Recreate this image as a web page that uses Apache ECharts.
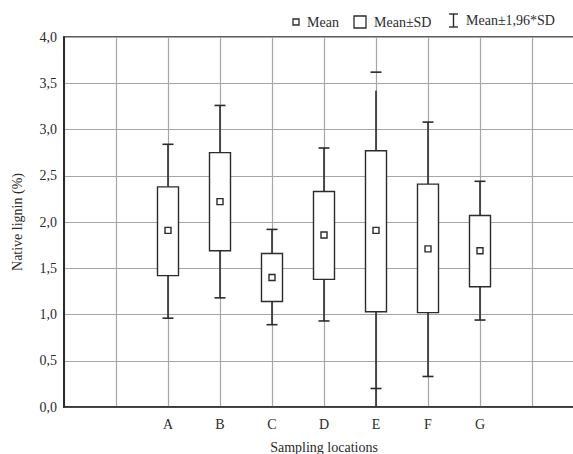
<!DOCTYPE html>
<html>
<head>
<meta charset="utf-8">
<script src="https://cdn.jsdelivr.net/npm/echarts@6/dist/echarts.min.js"></script>
<style>
  html, body { margin: 0; padding: 0; background: #fff; overflow: hidden; }
  #chart { width: 573px; height: 454px; }
</style>
</head>
<body>
<div id="chart"></div>
<script>
// sampling locations and read-off statistics (%)
const locations = ['A', 'B', 'C', 'D', 'E', 'F', 'G']
const means  = [1.91, 2.22, 1.40, 1.86, 1.91, 1.71, 1.69]
const sdLow  = [1.42, 1.69, 1.14, 1.38, 1.03, 1.02, 1.30]
const sdHigh = [2.38, 2.75, 1.66, 2.33, 2.77, 2.41, 2.07]
const ciLow  = [0.96, 1.18, 0.89, 0.93, 0.20, 0.33, 0.94]
const ciHigh = [2.84, 3.26, 1.92, 2.80, 3.62, 3.08, 2.44]
// where the drawn whisker stroke actually ends (E is drawn past its caps in the original)
const lineLow  = [0.96, 1.18, 0.89, 0.93, 0.00, 0.33, 0.94]
const lineHigh = [2.84, 3.26, 1.92, 2.80, 3.42, 3.08, 2.44]
const yTickLabels = ['0,0', '0,5', '1,0', '1,5', '2,0', '2,5', '3,0', '3,5', '4,0']

const FONT = 'Liberation Serif, DejaVu Serif, serif'
const INK = '#2b2b2b'

// two empty slots on each side, like the original plot
const axisData = ['', ''].concat(locations, ['', ''])

const boxData = locations.map((loc, i) => [
  axisData.indexOf(loc), ciLow[i], sdLow[i], means[i], sdHigh[i], ciHigh[i], lineLow[i], lineHigh[i]
])

function renderBox(params, api) {
  const x = api.value(0)
  const p = v => api.coord([x, v])
  const cx = p(0)[0]
  const boxW = 21
  const capW = 11
  const yCiLow = p(api.value(1))[1]
  const ySdLow = p(api.value(2))[1]
  const yMean = p(api.value(3))[1]
  const ySdHigh = p(api.value(4))[1]
  const yCiHigh = p(api.value(5))[1]
  const yLineLow = p(api.value(6))[1]
  const yLineHigh = p(api.value(7))[1]
  const lineStyle = { stroke: INK, lineWidth: 1.6 }
  return {
    type: 'group',
    children: [
      { type: 'line', shape: { x1: cx, y1: ySdHigh, x2: cx, y2: yLineHigh }, style: lineStyle },
      { type: 'line', shape: { x1: cx, y1: ySdLow, x2: cx, y2: yLineLow }, style: lineStyle },
      { type: 'line', shape: { x1: cx - capW / 2, y1: yCiHigh, x2: cx + capW / 2, y2: yCiHigh }, style: lineStyle },
      { type: 'line', shape: { x1: cx - capW / 2, y1: yCiLow, x2: cx + capW / 2, y2: yCiLow }, style: lineStyle },
      {
        type: 'rect',
        shape: { x: cx - boxW / 2, y: ySdHigh, width: boxW, height: ySdLow - ySdHigh },
        style: { fill: '#fff', stroke: INK, lineWidth: 1.4 }
      },
      {
        type: 'rect',
        shape: { x: cx - 3, y: yMean - 3, width: 6, height: 6 },
        style: { fill: '#fff', stroke: INK, lineWidth: 1.4 }
      }
    ]
  }
}

const chart = echarts.init(document.getElementById('chart'), null, { renderer: 'svg' })

chart.setOption({
  backgroundColor: '#fff',
  animation: false,
  textStyle: { fontFamily: FONT, color: INK },
  grid: {
    left: 64,
    top: 37,
    width: 520,
    height: 370,
    containLabel: false,
    outerBoundsMode: 'none',
    show: true,
    borderColor: INK,
    borderWidth: 1.5
  },
  xAxis: {
    type: 'category',
    data: axisData,
    boundaryGap: false,
    name: 'Sampling locations',
    nameLocation: 'middle',
    nameGap: 33,
    nameTextStyle: { fontFamily: FONT, fontSize: 14, color: INK },
    axisLine: { lineStyle: { color: INK, width: 1.6 } },
    axisTick: { show: false },
    axisLabel: { fontFamily: FONT, fontSize: 14, color: INK, margin: 10, interval: 0 },
    splitLine: { show: true, interval: 0, lineStyle: { color: '#a6a6a6', width: 1.2 } }
  },
  yAxis: {
    type: 'value',
    min: 0,
    max: 4,
    interval: 0.5,
    name: 'Native lignin (%)',
    nameLocation: 'middle',
    nameGap: 40,
    nameTextStyle: { fontFamily: FONT, fontSize: 14, color: INK },
    axisLine: { show: true, lineStyle: { color: INK, width: 2 } },
    axisTick: { show: false },
    axisLabel: {
      fontFamily: FONT, fontSize: 14, color: INK, margin: 7,
      formatter: v => yTickLabels[Math.round(v / 0.5)]
    },
    splitLine: { show: true, lineStyle: { color: '#a6a6a6', width: 1.2 } }
  },
  graphic: [
    // legend
    { type: 'rect', shape: { x: 293, y: 19, width: 6, height: 6 }, style: { fill: '#fff', stroke: INK, lineWidth: 1.3 } },
    { type: 'text', x: 307, y: 22, style: { text: 'Mean', font: '14px ' + FONT, fill: INK, verticalAlign: 'middle' } },
    { type: 'rect', shape: { x: 354, y: 16, width: 12, height: 12 }, style: { fill: '#fff', stroke: INK, lineWidth: 1.3 } },
    { type: 'text', x: 374, y: 22, style: { text: 'Mean±SD', font: '14px ' + FONT, fill: INK, verticalAlign: 'middle' } },
    { type: 'line', shape: { x1: 449, y1: 14, x2: 458, y2: 14 }, style: { stroke: INK, lineWidth: 1.4 } },
    { type: 'line', shape: { x1: 453.5, y1: 14, x2: 453.5, y2: 27 }, style: { stroke: INK, lineWidth: 1.4 } },
    { type: 'line', shape: { x1: 449, y1: 27, x2: 458, y2: 27 }, style: { stroke: INK, lineWidth: 1.4 } },
    { type: 'text', x: 466, y: 20, style: { text: 'Mean±1,96*SD', font: '14px ' + FONT, fill: INK, verticalAlign: 'middle' } }
  ],
  series: [
    {
      type: 'custom',
      name: 'Native lignin',
      renderItem: renderBox,
      encode: { x: 0, y: [1, 2, 3, 4, 5] },
      data: boxData,
      z: 10
    }
  ]
})
</script>
</body>
</html>
